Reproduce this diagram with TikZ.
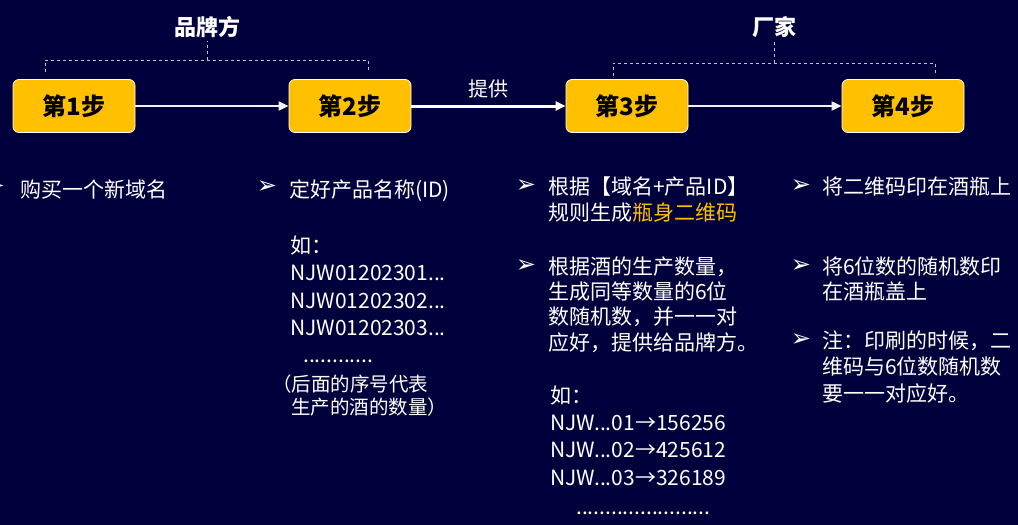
\documentclass[tikz,border=0pt]{standalone}
\usepackage{fontspec}
\setmainfont{Noto Sans CJK SC}
\newfontfamily\symfont{DejaVu Sans}
\usetikzlibrary{calc,arrows.meta}

\definecolor{navy}{RGB}{0,0,60}
\definecolor{gold}{RGB}{255,192,0}

\begin{document}
\begin{tikzpicture}[
  x=1pt, y=-1pt,
  >={Triangle[length=10pt,width=9pt]},
  stepbox/.style={draw=white, thick, fill=gold, rounded corners=6pt,
    minimum width=122pt, minimum height=53pt, text=black,
    font=\fontsize{24}{28}\selectfont\bfseries},
  flow/.style={->, draw=white!90!gray, line width=2pt},
  group/.style={draw=white!75!navy, dashed, thin},
  head/.style={text=white, font=\fontsize{22}{26}\selectfont\bfseries},
  bulletmark/.style={text=white, font=\symfont\fontsize{24}{26}\selectfont, inner sep=0pt},
  item/.style={text=white, align=left, anchor=base west, inner sep=0pt,
    font=\fontsize{21}{25.5}\selectfont},
]

% --- Hintergrund ---
\useasboundingbox (0,0) rectangle (1018,525);
\fill[navy] (0,0) rectangle (1018,525);

% --- Schritte ---
\node[stepbox] (step1) at (74,106) {第1步};
\node[stepbox] (step2) at (350,106) {第2步};
\node[stepbox] (step3) at (627,106) {第3步};
\node[stepbox] (step4) at (903,106) {第4步};

\draw[flow] (step1) -- (step2);
\draw[flow, draw=white, line width=3pt] (step2) -- node[midway, above=3pt, text=white,
  font=\fontsize{20}{24}\selectfont] (give) {提供} (step3);
\draw[flow] (step3) -- (step4);

% --- Klammern oben ---
\node[head] (brand) at (207,27) {品牌方};
\node[head] (maker) at (774,27) {厂家};
\draw[group] (45,72) |- (368,60) -- (368,72);
\draw[group] (207,60) -- (brand.south);
\draw[group] (613,76) |- (935,63) -- (935,76);
\draw[group] (774,63) -- (maker.south);

% --- Spalte 1 (Anker = Grundlinie der letzten Zeile) ---
\node[bulletmark, anchor=east] (b1) at (5,187) {➢};
\node[item] (t1) at (20,197) {购买一个新域名};

% --- Spalte 2 ---
\node[bulletmark] (b2) at (267,187) {➢};
\node[item] (t2) at (289,197) {定好产品名称(ID)};
\node[item, font=\fontsize{21}{27.5}\selectfont] (ex2) at (290,335.5)
  {如：\\NJW01202301...\\NJW01202302...\\NJW01202303...};
\node[item] (dots2) at (303,362) {............};
\node[item, font=\fontsize{19.5}{23}\selectfont] (note2) at (272,414)
  {（后面的序号代表\\\hspace*{19pt}生产的酒的数量）};

% --- Spalte 3 ---
\node[bulletmark] (b3a) at (526,186) {➢};
\node[item, font=\fontsize{21}{26}\selectfont] (t3a) at (548,220)
  {根据【域名+产品ID】\\规则生成\textcolor{gold}{瓶身二维码}};
\node[bulletmark] (b3b) at (526,266) {➢};
\node[item, font=\fontsize{21}{25.3}\selectfont] (t3b) at (548,350)
  {根据酒的生产数量，\\生成同等数量的6位\\数随机数，并一一对\\应好，提供给品牌方。};
\node[item, font=\fontsize{21}{27.3}\selectfont] (ex3) at (550,485)
  {如：\\NJW...01→156256\\NJW...02→425612\\NJW...03→326189};
\node[item] (dots3) at (576,514) {.......................};

% --- Spalte 4 ---
\node[bulletmark] (b4a) at (801,186) {➢};
\node[item] (t4a) at (822,194) {将二维码印在酒瓶上};
\node[bulletmark] (b4b) at (801,266) {➢};
\node[item, font=\fontsize{21}{25}\selectfont] (t4b) at (822,299)
  {将6位数的随机数印\\在酒瓶盖上};
\node[bulletmark] (b4c) at (801,340) {➢};
\node[item, font=\fontsize{21}{26.5}\selectfont] (t4c) at (822,401)
  {注：印刷的时候，二\\维码与6位数随机数\\要一一对应好。};

\end{tikzpicture}
\end{document}
